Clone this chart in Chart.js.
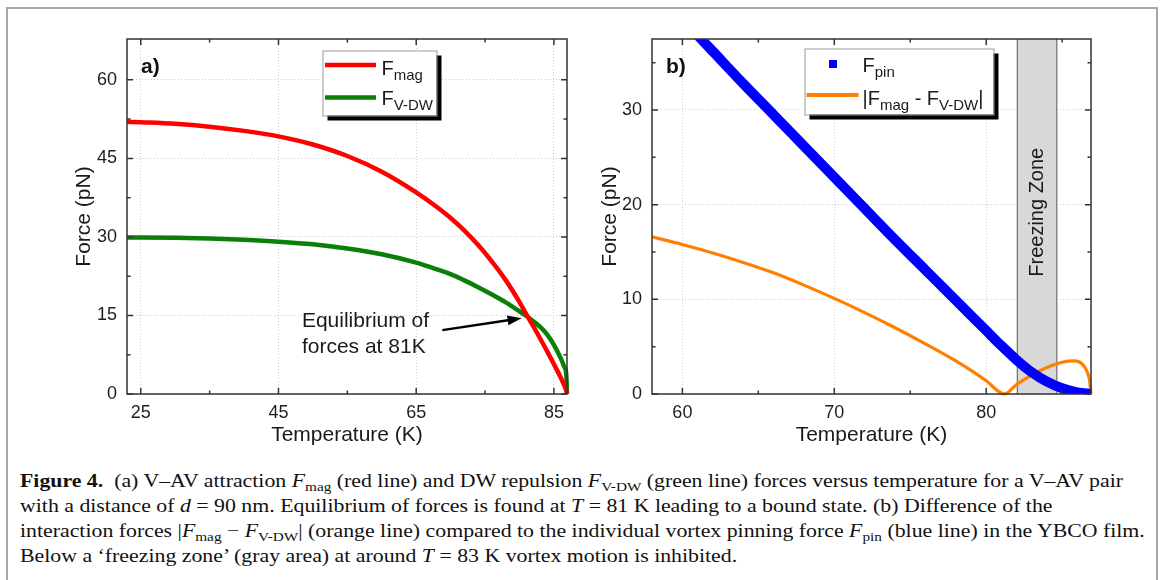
<!DOCTYPE html>
<html>
<head>
<meta charset="utf-8">
<title>Figure 4</title>
<script src="https://cdn.jsdelivr.net/npm/chart.js@4.4.0/dist/chart.umd.min.js"></script>
<style>
  html, body { margin: 0; padding: 0; background: #fff; }
  body { width: 1163px; height: 580px; position: relative; overflow: hidden; }
  #frame { position: absolute; left: 6px; top: 7px; width: 1152px; height: 640px; border: 2px solid #a8a8a8; box-sizing: border-box; }
  .panel { position: absolute; top: 0; height: 460px; }
  #panelA { left: 0; width: 580px; }
  #panelB { left: 580px; width: 583px; }
  canvas { display: block; }
  #caption { position: absolute; left: 20px; top: 469px; font-family: "Liberation Serif", serif; font-size: 18.5px;
             line-height: 25px; color: #111; transform-origin: 0 0; white-space: nowrap; }
  #caption sub { font-size: 0.7em; vertical-align: -0.28em; line-height: 0; font-style: normal; }
</style>
</head>
<body>
<div id="frame"></div>
<div class="panel" id="panelA"><canvas id="chartA" width="580" height="460"></canvas></div>
<div class="panel" id="panelB"><canvas id="chartB" width="583" height="460"></canvas></div>
<div id="caption">
  <div><span id="line1"><b>Figure 4.</b>&nbsp; (a) V–AV attraction <i>F</i><sub>mag</sub> (red line) and DW repulsion <i>F</i><sub>V-DW</sub> (green line) forces versus temperature for a V–AV pair</span></div>
  <div>with a distance of <i>d</i> = 90 nm. Equilibrium of forces is found at <i>T</i> = 81 K leading to a bound state. (b) Difference of the</div>
  <div>interaction forces |<i>F</i><sub>mag</sub> − <i>F</i><sub>V-DW</sub>| (orange line) compared to the individual vortex pinning force <i>F</i><sub>pin</sub> (blue line) in the YBCO film.</div>
  <div>Below a ‘freezing zone’ (gray area) at around <i>T</i> = 83 K vortex motion is inhibited.</div>
</div>
<script>
// panel a) : forces vs temperature
const tempA = [23, 25, 30, 35, 40, 45, 50, 55, 60, 65, 68, 70, 72, 74, 76, 78, 80, 81, 82, 83, 84, 85, 86, 86.5, 86.8, 86.9];
const fMag  = [52.0, 51.9, 51.6, 51.05, 50.25, 49.2, 47.65, 45.45, 42.45, 38.5, 35.7, 33.6, 31.2, 28.45, 25.3, 21.75, 17.55, 15.2, 12.95, 10.6, 8.2, 5.7, 3.1, 1.65, 0.6, 0];
const fVdw  = [29.9, 29.9, 29.85, 29.7, 29.45, 29.1, 28.6, 27.8, 26.7, 25.1, 23.8, 22.9, 21.7, 20.4, 19.0, 17.5, 15.8, 14.9, 13.9, 12.8, 11.4, 9.4, 6.8, 5.2, 3.6, 0];

// panel b) : pinning force and force difference
const tempPin  = [58, 60, 62, 64, 66, 68, 70, 72, 74, 76, 78, 79, 80, 81, 82, 83, 84, 85, 86, 86.9];
const fPin     = [43.0, 39.6, 36.2, 32.8, 29.5, 26.2, 22.9, 19.6, 16.3, 13.1, 9.9, 8.3, 6.7, 5.1, 3.6, 2.3, 1.3, 0.6, 0.18, 0];
const tempDiff = [58, 60, 62, 64, 66, 68, 70, 72, 74, 76, 78, 79, 80, 81.2, 82, 83, 84, 85, 85.8, 86.3, 86.6, 86.8, 86.9];
const fDiff    = [16.6, 15.8, 14.9, 13.9, 12.8, 11.5, 10.1, 8.6, 7.0, 5.3, 3.5, 2.5, 1.4, 0, 1.0, 2.0, 2.8, 3.35, 3.5, 3.2, 2.5, 1.5, 0];
const freezeZone = [82.05, 84.65];

// ticks
const xMajorA = [25, 45, 65, 85], xMinorA = [35, 55, 75];
const yMajorA = [0, 15, 30, 45, 60], yMinorA = [7.5, 22.5, 37.5, 52.5];
const xMajorB = [60, 70, 80], xMinorB = [65, 75, 85];
const yMajorB = [0, 10, 20, 30], yMinorB = [5, 15, 25, 35];

const SANS = '"Liberation Sans", Arial, sans-serif';
Chart.defaults.font.family = SANS;
Chart.defaults.color = '#1e1e1e';

function pts(xs, ys) {
    return xs.map((x, i) => ({ x: x, y: ys[i] }));
}

// inward ticks on all four sides plus the box around the plot
function framePlugin(xMaj, xMin, yMaj, yMin) {
    return {
        id: 'frame',
        afterDraw(chart) {
            const { ctx, chartArea: a, scales: { x, y } } = chart;
            ctx.save();
            ctx.strokeStyle = '#333';
            ctx.lineWidth = 1.5;
            ctx.beginPath();
            const xt = (v, len) => {
                const p = x.getPixelForValue(v);
                ctx.moveTo(p, a.bottom); ctx.lineTo(p, a.bottom - len);
                ctx.moveTo(p, a.top); ctx.lineTo(p, a.top + len);
            };
            const yt = (v, len) => {
                const p = y.getPixelForValue(v);
                ctx.moveTo(a.left, p); ctx.lineTo(a.left + len, p);
                ctx.moveTo(a.right, p); ctx.lineTo(a.right - len, p);
            };
            xMaj.forEach(v => xt(v, 6)); xMin.forEach(v => xt(v, 3.5));
            yMaj.forEach(v => yt(v, 6)); yMin.forEach(v => yt(v, 3.5));
            ctx.stroke();
            ctx.strokeRect(a.left, a.top, a.right - a.left, a.bottom - a.top);
            ctx.restore();
        }
    };
}

// text with subscripts: parts = [[text, isSub], ...]
function drawRich(ctx, parts, x, y, size, subSize) {
    parts.forEach(([txt, sub]) => {
        ctx.font = (sub ? subSize : size) + 'px ' + SANS;
        ctx.fillText(txt, x, sub ? y + 5 : y);
        x += ctx.measureText(txt).width;
    });
}

function legendBox(ctx, x, y, w, h) {
    ctx.fillStyle = '#000';
    ctx.fillRect(x + 5, y + 5, w, h);
    ctx.fillStyle = '#fff';
    ctx.fillRect(x, y, w, h);
    ctx.strokeStyle = '#9a9a9a';
    ctx.lineWidth = 1;
    ctx.strokeRect(x + 0.5, y + 0.5, w, h);
}

function scaleOpts(min, max, majors, title, axisSize) {
    return {
        type: 'linear', min: min, max: max,
        afterBuildTicks: s => { s.ticks = majors.map(v => ({ value: v })); },
        afterFit: s => { if (s.isHorizontal()) s.height = axisSize; else s.width = axisSize; },
        grid: { color: '#cdcdcd', lineWidth: 1, drawTicks: false },
        border: { display: false, dash: [1, 2] },
        ticks: { padding: 0, font: { size: 18 }, color: '#1e1e1e', maxRotation: 0, callback: v => String(v) },
        title: { display: true, text: title, font: { size: 21 }, color: '#1a1a1a', padding: { top: 4, bottom: 4 } }
    };
}

function baseOptions(pad) {
    return {
        responsive: false,
        animation: false,
        layout: { padding: pad },
        plugins: { legend: { display: false }, tooltip: { enabled: false } },
        elements: { point: { radius: 0 } }
    };
}

// clip flush with the plot box on the left/top, let line ends show at the bottom/right
const CLIP = { left: 0, top: 0, right: 3, bottom: 3 };

// ---------- panel a ----------
const optsA = baseOptions({ left: 68, right: 13, top: 39, bottom: 8 });
optsA.scales = {
    x: scaleOpts(23, 86.9, xMajorA, 'Temperature (K)', 58),
    y: scaleOpts(0, 67.8, yMajorA, 'Force (pN)', 59)
};
optsA.scales.x.ticks.padding = 8;
optsA.scales.y.ticks.padding = 10;

const notesA = {
    id: 'notesA',
    afterDraw(chart) {
        const { ctx, scales: { x, y } } = chart;
        ctx.save();
        ctx.fillStyle = '#111';
        ctx.font = 'bold 21px ' + SANS;
        ctx.fillText('a)', 141, 73);

        // equilibrium annotation
        ctx.font = '21px ' + SANS;
        ctx.fillStyle = '#1a1a1a';
        const tx = x.getPixelForValue(48.4);
        ctx.fillText('Equilibrium of', tx, y.getPixelForValue(12.75));
        ctx.fillText('forces at 81K', tx, y.getPixelForValue(7.85));
        const x0 = x.getPixelForValue(68.8), y0 = y.getPixelForValue(12.2);
        const x1 = x.getPixelForValue(80.3), y1 = y.getPixelForValue(14.45);
        const ang = Math.atan2(y1 - y0, x1 - x0);
        ctx.strokeStyle = '#000';
        ctx.lineWidth = 2.5;
        ctx.beginPath();
        ctx.moveTo(x0, y0);
        ctx.lineTo(x1 - 12 * Math.cos(ang), y1 - 12 * Math.sin(ang));
        ctx.stroke();
        ctx.fillStyle = '#000';
        ctx.beginPath();
        ctx.moveTo(x1, y1);
        ctx.lineTo(x1 - 14 * Math.cos(ang) + 5 * Math.sin(ang), y1 - 14 * Math.sin(ang) - 5 * Math.cos(ang));
        ctx.lineTo(x1 - 14 * Math.cos(ang) - 5 * Math.sin(ang), y1 - 14 * Math.sin(ang) + 5 * Math.cos(ang));
        ctx.closePath();
        ctx.fill();

        // legend
        legendBox(ctx, 322.5, 50.5, 114, 65);
        ctx.lineWidth = 4.5;
        ctx.strokeStyle = '#ff0000';
        ctx.beginPath(); ctx.moveTo(325, 65); ctx.lineTo(376, 65); ctx.stroke();
        ctx.strokeStyle = '#0a800a';
        ctx.beginPath(); ctx.moveTo(325, 97.5); ctx.lineTo(376, 97.5); ctx.stroke();
        ctx.fillStyle = '#1a1a1a';
        drawRich(ctx, [['F', false], ['mag', true]], 381.5, 75, 20, 15);
        drawRich(ctx, [['F', false], ['V-DW', true]], 381.5, 105, 20, 15);
        ctx.restore();
    }
};

new Chart(document.getElementById('chartA'), {
    type: 'line',
    data: {
        datasets: [
            { label: 'Fmag', data: pts(tempA, fMag), borderColor: '#ff0000', borderWidth: 4.5, cubicInterpolationMode: 'monotone', clip: CLIP },
            { label: 'FV-DW', data: pts(tempA, fVdw), borderColor: '#0a800a', borderWidth: 4.5, cubicInterpolationMode: 'monotone', clip: CLIP }
        ]
    },
    options: optsA,
    plugins: [framePlugin(xMajorA, xMinorA, yMajorA, yMinorA), notesA]
});

// ---------- panel b ----------
const optsB = baseOptions({ left: 14, right: 72, top: 39, bottom: 8 });
optsB.scales = {
    x: scaleOpts(58, 86.9, xMajorB, 'Temperature (K)', 58),
    y: scaleOpts(0, 37.5, yMajorB, 'Force (pN)', 58)
};
optsB.scales.x.ticks.padding = 8;
optsB.scales.y.ticks.padding = 10;

const zoneB = {
    id: 'zoneB',
    beforeDatasetsDraw(chart) {
        const { ctx, chartArea: a, scales: { x, y } } = chart;
        const l = x.getPixelForValue(freezeZone[0]), r = x.getPixelForValue(freezeZone[1]);
        ctx.save();
        ctx.fillStyle = '#d8d8d8';
        ctx.fillRect(l, a.top, r - l, a.bottom - a.top);
        ctx.strokeStyle = '#6e6e6e';
        ctx.lineWidth = 1.2;
        ctx.beginPath();
        ctx.moveTo(l, a.top); ctx.lineTo(l, a.bottom);
        ctx.moveTo(r, a.top); ctx.lineTo(r, a.bottom);
        ctx.stroke();
        ctx.translate((l + r) / 2, y.getPixelForValue(19.2));
        ctx.rotate(-Math.PI / 2);
        ctx.fillStyle = '#1a1a1a';
        ctx.font = '20px ' + SANS;
        ctx.textAlign = 'center';
        ctx.textBaseline = 'middle';
        ctx.fillText('Freezing Zone', 0, 0);
        ctx.restore();
    }
};

const notesB = {
    id: 'notesB',
    afterDraw(chart) {
        const { ctx } = chart;
        ctx.save();
        ctx.fillStyle = '#111';
        ctx.font = 'bold 21px ' + SANS;
        ctx.fillText('b)', 86, 73);

        legendBox(ctx, 224.5, 48.5, 189, 66);
        ctx.fillStyle = '#0000ff';
        ctx.fillRect(249, 60, 8, 8);
        ctx.strokeStyle = '#ff8000';
        ctx.lineWidth = 4;
        ctx.beginPath(); ctx.moveTo(226.5, 95); ctx.lineTo(278.5, 95); ctx.stroke();
        ctx.fillStyle = '#1a1a1a';
        drawRich(ctx, [['F', false], ['pin', true]], 282.5, 72, 20, 15);
        drawRich(ctx, [['|F', false], ['mag', true], [' - F', false], ['V-DW', true], ['|', false]], 282.5, 105, 20, 15);
        ctx.restore();
    }
};

new Chart(document.getElementById('chartB'), {
    type: 'line',
    data: {
        datasets: [
            { label: 'Fpin', data: pts(tempPin, fPin), borderColor: '#0000ff', borderWidth: 10, cubicInterpolationMode: 'monotone', clip: 0 },
            { label: '|Fmag - FV-DW|', data: pts(tempDiff, fDiff), borderColor: '#ff8000', borderWidth: 3.2, cubicInterpolationMode: 'monotone', clip: CLIP }
        ]
    },
    options: optsB,
    plugins: [zoneB, framePlugin(xMajorB, xMinorB, yMajorB, yMinorB), notesB]
});

// squeeze the caption so the first line spans the same width as in the figure
const cap = document.getElementById('caption');
const w1 = document.getElementById('line1').getBoundingClientRect().width;
cap.style.transform = 'scaleX(' + (1103 / w1) + ')';
</script>
</body>
</html>
